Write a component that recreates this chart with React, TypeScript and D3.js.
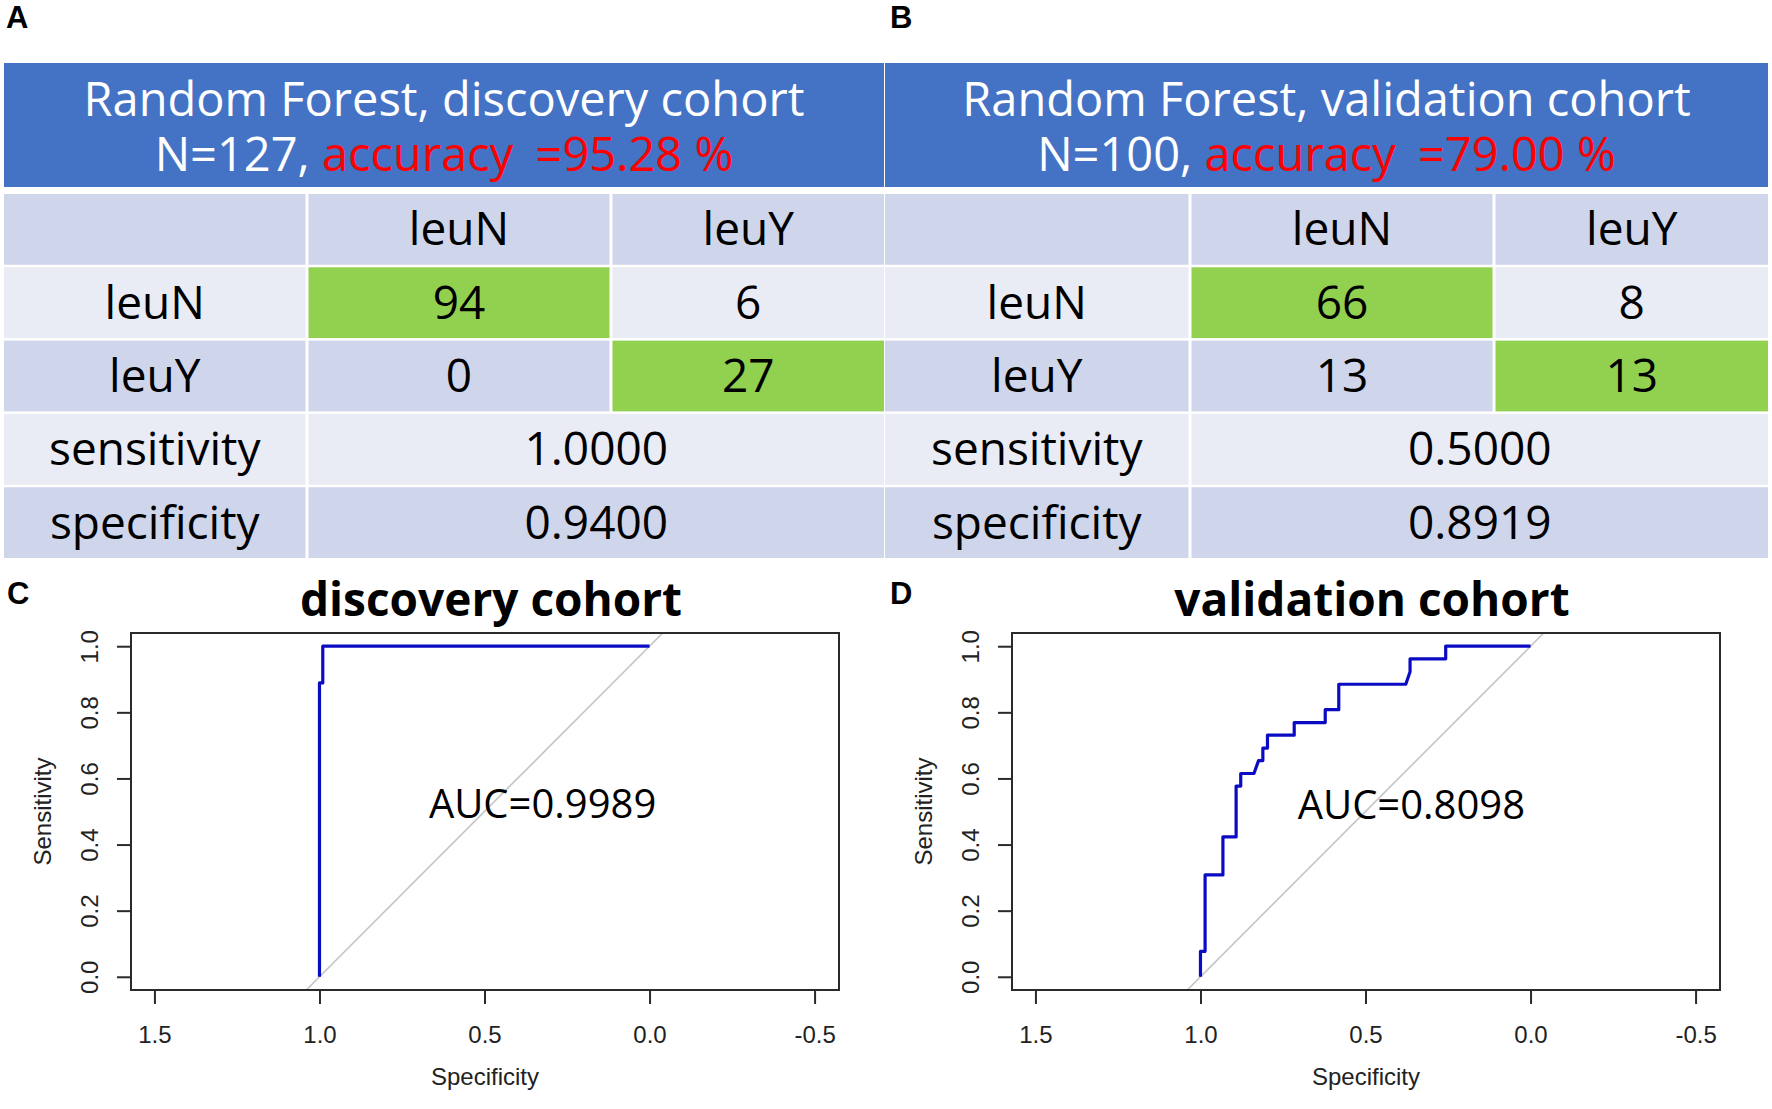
import React, { useEffect, useRef } from "react";
import * as d3 from "d3";

const W = 1772;
const H = 1109;

// confusion-matrix tables (A, B)
const classLabels = ["leuN", "leuY"];
const tableTitles = ["Random Forest, discovery cohort", "Random Forest, validation cohort"];
const cohortN = [127, 100];
const accuracies = ["95.28", "79.00"];
const discoveryMatrix = [[94, 6], [0, 27]];
const validationMatrix = [[66, 8], [13, 13]];
const sensitivities = ["1.0000", "0.5000"];
const specificities = ["0.9400", "0.8919"];

// ROC curves (C, D): specificity / sensitivity pairs
const discoverySpec = [1, 1, 0.99, 0.99, 0];
const discoverySens = [0, 0.889, 0.889, 1, 1];
const validationSpec = [1, 1, 0.986, 0.986, 0.932, 0.932, 0.892, 0.892, 0.878, 0.878, 0.838, 0.824, 0.811, 0.811,
    0.797, 0.797, 0.716, 0.716, 0.622, 0.622, 0.581, 0.581, 0.378, 0.365, 0.365, 0.257, 0.257, 0];
const validationSens = [0, 0.077, 0.077, 0.308, 0.308, 0.423, 0.423, 0.577, 0.577, 0.615, 0.615, 0.654, 0.654, 0.692,
    0.692, 0.731, 0.731, 0.769, 0.769, 0.808, 0.808, 0.885, 0.885, 0.923, 0.962, 0.962, 1, 1];
const rocTitles = ["discovery cohort", "validation cohort"];
const aucValues = ["0.9989", "0.8098"];
const xTicks = [1.5, 1, 0.5, 0, -0.5];
const yTicks = [0, 0.2, 0.4, 0.6, 0.8, 1];

const officeFont = "'Open Sans', 'Noto Sans', sans-serif";
const rFont = "'Liberation Sans', Arial, sans-serif";
const blue = "#4472C4";
const lavender = "#CFD5EA";
const lightRow = "#E9EBF5";
const green = "#92D050";

type Sel = d3.Selection<SVGGElement, unknown, null, undefined>;

function drawTable(g: Sel, t: any) {
    const e = t.edges as number[];
    const cx = (e[0] + e[3]) / 2;
    g.append("rect").attr("x", e[0]).attr("y", 63).attr("width", e[3] - e[0]).attr("height", 124).attr("fill", blue);
    const title = g.append("text").attr("x", cx).attr("y", 116).attr("text-anchor", "middle")
        .attr("font-family", officeFont).attr("font-size", 47).attr("fill", "#fff")
    title.text(t.title);
    const l2 = g.append("text").attr("x", cx).attr("y", 171).attr("text-anchor", "middle")
        .attr("font-family", officeFont).attr("font-size", 47).attr("fill", "#fff")
    l2.append("tspan").text(`N=${t.n}, `);
    l2.append("tspan").attr("fill", "#FF0000").text("accuracy ");
    l2.append("tspan").attr("fill", "#FF0000").attr("dx", 10).text(`=${t.acc} %`);

    const rows = d3.scaleBand<number>().domain(d3.range(5)).range([194, 558]).paddingInner(0.035);
    const m = t.matrix as number[][];
    const rowCells: (string | number)[][] = [
        ["", classLabels[0], classLabels[1]],
        [classLabels[0], m[0][0], m[0][1]],
        [classLabels[1], m[1][0], m[1][1]],
        ["sensitivity", t.sens],
        ["specificity", t.spec],
    ];
    rowCells.forEach((cells, r) => {
        const y0 = rows(r)!;
        const h = rows.bandwidth();
        const fill = r % 2 === 0 ? lavender : lightRow;
        cells.forEach((v, c) => {
            const merged = cells.length === 2 && c === 1;
            const x1 = c === 0 ? e[0] : e[c] + 1.5;
            const x2 = merged || c === 2 ? e[3] : e[c + 1] - 1.5;
            const isDiag = (r === 1 && c === 1) || (r === 2 && c === 2);
            g.append("rect").attr("x", x1).attr("y", y0).attr("width", x2 - x1).attr("height", h)
                .attr("fill", isDiag ? green : fill);
            g.append("text").attr("x", (x1 + x2) / 2).attr("y", y0 + h / 2 + 16)
                .attr("text-anchor", "middle").attr("font-family", officeFont).attr("font-size", 46)
                .attr("fill", "#000").text(String(v));
        });
    });
}

function drawRoc(g: Sel, p: any, idx: number) {
    const dx = p.dx;
    const x = d3.scaleLinear().domain([1.571, -0.574]).range([131 + dx, 839 + dx]);
    const y = d3.scaleLinear().domain([-0.04, 1.04]).range([990, 633]);
    const [x0, x1] = x.range();
    const [yb, yt] = y.range();

    const clipId = "clip" + idx;
    g.append("clipPath").attr("id", clipId).append("rect")
        .attr("x", x0).attr("y", yt).attr("width", x1 - x0).attr("height", yb - yt);

    // chance diagonal
    const dom = y.domain();
    const diag = d3.line<number>().x(s => x(1 - s)).y(s => y(s));
    g.append("path").attr("d", diag(dom)).attr("stroke", "#C4C4C4").attr("stroke-width", 1.6)
        .attr("fill", "none").attr("clip-path", `url(#${clipId})`);

    const roc = d3.line<number>().x((d, i) => x(p.spec[i])).y((d, i) => y(p.sens[i]));
    g.append("path").attr("d", roc(p.sens)).attr("stroke", "#0B0BC4").attr("stroke-width", 3.2)
        .attr("fill", "none").attr("stroke-linejoin", "round");

    g.append("rect").attr("x", x0).attr("y", yt).attr("width", x1 - x0).attr("height", yb - yt)
        .attr("fill", "none").attr("stroke", "#2a2a2a").attr("stroke-width", 2);

    const fmt = (d: any) => (+d).toFixed(1);
    const xa = g.append("g").attr("transform", `translate(0,${yb})`)
        .call(d3.axisBottom(x).tickValues(xTicks).tickSize(14).tickPadding(22).tickFormat(fmt));
    const ya = g.append("g").attr("transform", `translate(${x0},0)`)
        .call(d3.axisLeft(y).tickValues(yTicks).tickSize(14).tickFormat(fmt));
    [xa, ya].forEach(a => {
        a.select(".domain").remove();
        a.attr("font-family", rFont).attr("font-size", 24);
        a.selectAll("line").attr("stroke", "#2a2a2a").attr("stroke-width", 2);
        a.selectAll("text").attr("fill", "#222");
    });
    ya.selectAll("text").attr("x", 0).attr("y", -33).attr("dy", 0)
        .attr("transform", "rotate(-90)").attr("text-anchor", "middle");

    const cx = (x0 + x1) / 2;
    g.append("text").attr("x", cx).attr("y", 1085).attr("text-anchor", "middle")
        .attr("font-family", rFont).attr("font-size", 24).attr("fill", "#222").text("Specificity");
    g.append("text").attr("transform", `translate(${51 + dx},${(yb + yt) / 2}) rotate(-90)`)
        .attr("text-anchor", "middle").attr("font-family", rFont).attr("font-size", 24)
        .attr("fill", "#222").text("Sensitivity");

    g.append("text").attr("x", cx + 6).attr("y", 616).attr("text-anchor", "middle")
        .attr("font-family", officeFont).attr("font-weight", 700).attr("font-size", 46)
        .attr("fill", "#000").text(p.title);
    g.append("text").attr("x", x(p.aucAt[0])).attr("y", y(p.aucAt[1])).attr("text-anchor", "middle")
        .attr("font-family", officeFont).attr("font-size", 40).attr("fill", "#000")
        .text(`AUC=${p.auc}`);
}

export default function App() {
    const ref = useRef<SVGSVGElement>(null);
    useEffect(() => {
        const svg = d3.select(ref.current!);
        svg.selectAll("*").remove();
        const root = svg.append("g") as unknown as Sel;

        const tables = [
            { title: tableTitles[0], n: cohortN[0], acc: accuracies[0], matrix: discoveryMatrix,
                sens: sensitivities[0], spec: specificities[0], edges: [4, 307, 611, 884] },
            { title: tableTitles[1], n: cohortN[1], acc: accuracies[1], matrix: validationMatrix,
                sens: sensitivities[1], spec: specificities[1], edges: [885, 1190, 1494, 1768] },
        ];
        tables.forEach(t => drawTable(root.append("g"), t));

        const panels = [
            { title: rocTitles[0], spec: discoverySpec, sens: discoverySens, auc: aucValues[0], aucAt: [0.324, 0.481], dx: 0 },
            { title: rocTitles[1], spec: validationSpec, sens: validationSens, auc: aucValues[1], aucAt: [0.361, 0.478], dx: 881 },
        ];
        panels.forEach((p, i) => drawRoc(root.append("g"), p, i));

        const labels = [["A", 6, 28], ["B", 890, 28], ["C", 7, 604], ["D", 890, 604]];
        labels.forEach(([t, lx, ly]) => {
            root.append("text").attr("x", lx as number).attr("y", ly as number)
                .attr("font-family", rFont).attr("font-weight", 700).attr("font-size", 31)
                .attr("fill", "#000").text(t as string);
        });
    }, []);
    return (
        <svg ref={ref} width={W} height={H} viewBox={`0 0 ${W} ${H}`}
            style={{ position: "absolute", left: 0, top: 0, background: "#fff" }}></svg>
    );
}
